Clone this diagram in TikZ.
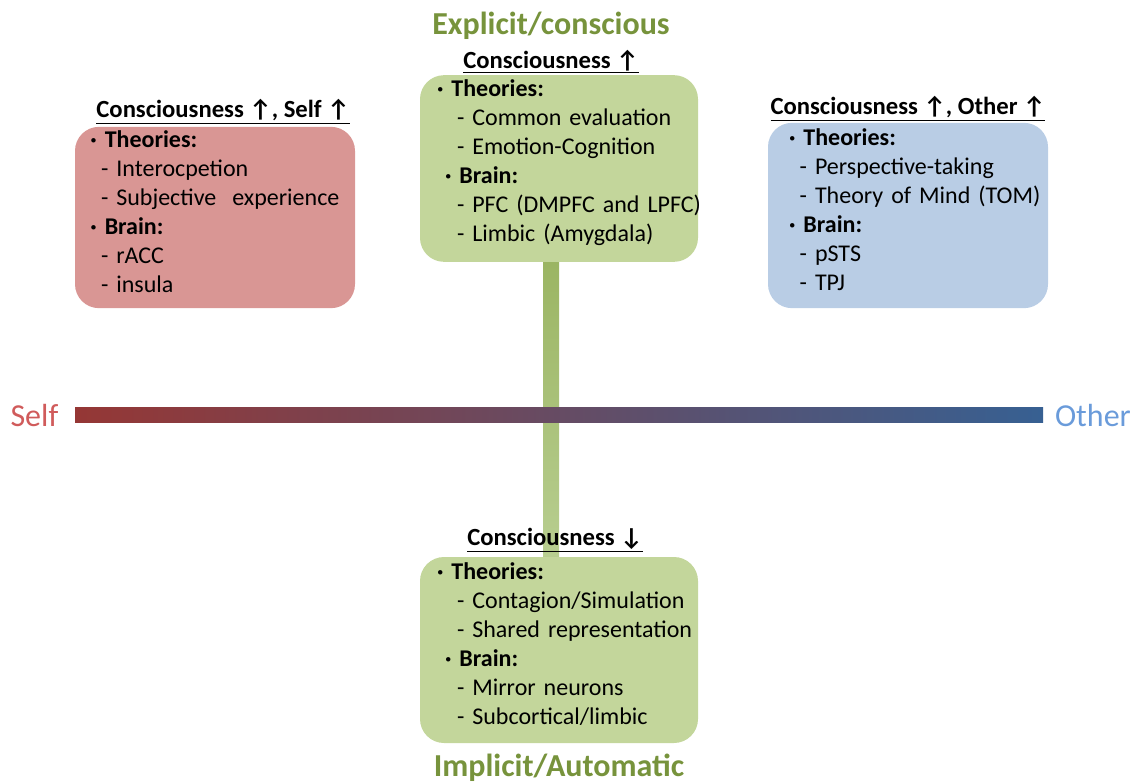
\documentclass[tikz,border=0pt]{standalone}
\usepackage{fontspec}
\setmainfont{Carlito}
\usepackage{tikz}
\usetikzlibrary{positioning}
\definecolor{SelfRed}{HTML}{D99694}
\definecolor{OtherBlue}{HTML}{B9CDE5}
\definecolor{ConsGreen}{HTML}{C3D69B}
\definecolor{LabelGreen}{HTML}{77933C}
\definecolor{BarRed}{HTML}{953735}
\definecolor{BarBlue}{HTML}{376092}
\definecolor{BarMid}{HTML}{5E4D6C}
\definecolor{SelfText}{HTML}{D05B5B}
\definecolor{OtherText}{HTML}{6A9BDA}
\definecolor{AxisTop}{HTML}{9BB563}
\definecolor{AxisBot}{HTML}{B8CE90}
\hfuzz=80pt

\begin{document}
\begin{tikzpicture}[
    x=0.75pt, y=-0.75pt,
    box/.style={rectangle, rounded corners=18pt, align=left, minimum width=210pt, font=\fontsize{18}{21.75}\selectfont, inner ysep=0pt, text height=4pt},
    head/.style={font=\fontsize{18.5}{22}\selectfont\bfseries, inner sep=1pt},
    pole/.style={font=\fontsize{24}{28}\selectfont\bfseries, text=LabelGreen, inner sep=1pt},
    side/.style={font=\fontsize{24}{28}\selectfont},
]
\useasboundingbox (0,0) rectangle (1135,783);

\node[box, fill=SelfRed, minimum height=136pt, text width=187pt] (selfbox) at (215,217.5) {%
  \textbf{· Theories:}\\
  \mbox{\hspace*{8pt}- Interocpetion}\\
  \mbox{\hspace*{8pt}- Subjective\ \ experience}\\
  \textbf{· Brain:}\\
  \mbox{\hspace*{8pt}- rACC}\\
  \mbox{\hspace*{8pt}- insula}};

\node[box, fill=ConsGreen, minimum width=208.5pt, minimum height=140pt, text width=183pt] (consbox) at (559,168.5) {%
  \textbf{· Theories:}\\
  \mbox{\hspace*{15pt}- Common evaluation}\\
  \mbox{\hspace*{15pt}- Emotion-Cognition}\\
  \mbox{\hspace*{6pt}\textbf{· Brain:}}\\
  \mbox{\hspace*{15pt}- PFC (DMPFC and LPFC)}\\
  \mbox{\hspace*{15pt}- Limbic (Amygdala)}};

\node[box, fill=OtherBlue, minimum height=139pt, text width=178.5pt] (otherbox) at (908,215.5) {%
  \textbf{· Theories:}\\
  \mbox{\hspace*{8pt}- Perspective-taking}\\
  \mbox{\hspace*{8pt}- Theory of Mind (TOM)}\\
  \textbf{· Brain:}\\
  \mbox{\hspace*{8pt}- pSTS}\\
  \mbox{\hspace*{8pt}- TPJ}};

\node[box, fill=ConsGreen, minimum width=208.5pt, minimum height=139.5pt, text width=183pt] (autobox) at (559,650) {%
  \textbf{· Theories:}\\
  \mbox{\hspace*{15pt}- Contagion/Simulation}\\
  \mbox{\hspace*{15pt}- Shared representation}\\
  \mbox{\hspace*{6pt}\textbf{· Brain:}}\\
  \mbox{\hspace*{15pt}- Mirror neurons}\\
  \mbox{\hspace*{15pt}- Subcortical/limbic}};

% axes
\coordinate (axl) at (75,415);
\coordinate (axr) at (1043,415);
\shade[top color=AxisTop, bottom color=AxisBot] ([xshift=-12pt]consbox.south) rectangle (autobox.north);
\shade[left color=BarRed, middle color=BarMid, right color=BarBlue] ([yshift=5.6pt]axl) rectangle ([yshift=-5.6pt]axr);

\node[side, text=SelfText, left=9pt of axl] (self) {Self};
\node[side, text=OtherText, right=5.5pt of axr] (other) {Other};

% headings
\node[head, above=1pt of selfbox, xshift=6pt] (tself) {\underline{Consciousness ↑, Self ↑}};
\node[head, above=0pt of consbox, xshift=-6pt] (tcons) {\underline{Consciousness ↑}};
\node[head, above=0pt of otherbox] (tother) {\underline{Consciousness ↑, Other ↑}};
\node[head, above=2pt of autobox, xshift=-3pt] (tauto) {\underline{Consciousness ↓}};

\node[pole, above=5pt of tcons] (explicit) {Explicit/conscious};
\node[pole, below=7pt of autobox] (implicit) {Implicit/Automatic};
\end{tikzpicture}
\end{document}
